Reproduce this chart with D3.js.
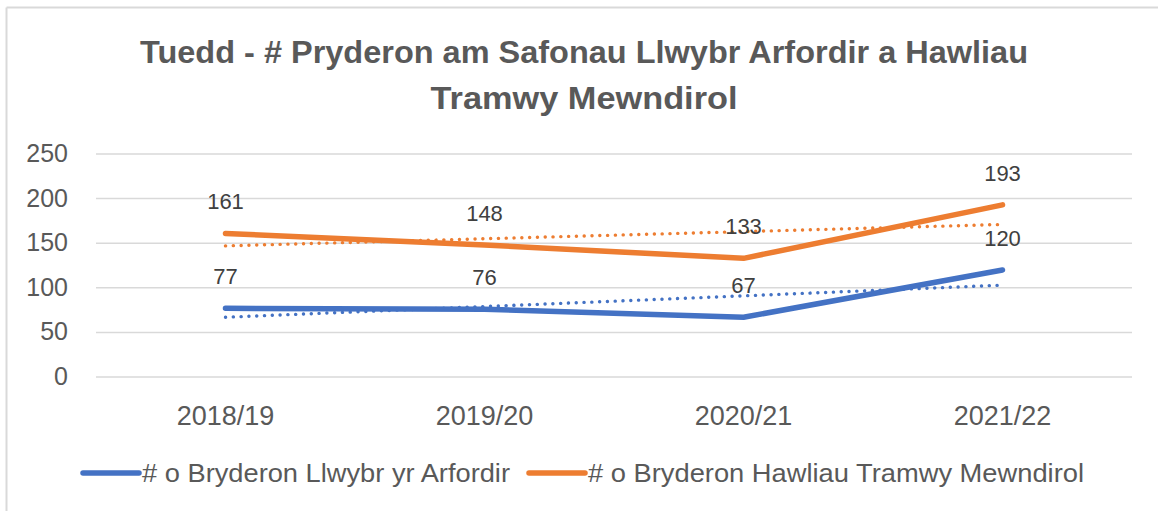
<!DOCTYPE html>
<html>
<head>
<meta charset="utf-8">
<script src="https://cdn.jsdelivr.net/npm/d3@7"></script>
<style>
  body { margin: 0; background: #fff; }
  text { font-family: "Liberation Sans", "DejaVu Sans", sans-serif; }
</style>
</head>
<body>
<svg id="chart" width="1158" height="511"></svg>
<script>
// data
const categories = ["2018/19", "2019/20", "2020/21", "2021/22"];
const coastValues = [77, 76, 67, 120];
const inlandValues = [161, 148, 133, 193];
// trendline ends (first and last category)
const coastTrend = [67, 103];
const inlandTrend = [147, 171];
const yTicks = [0, 50, 100, 150, 200, 250];
const titleLines = ["Tuedd - # Pryderon am Safonau Llwybr Arfordir a Hawliau", "Tramwy Mewndirol"];
const legendNames = ["# o Bryderon Llwybr yr Arfordir", "# o Bryderon Hawliau Tramwy Mewndirol"];

const blue = "#4472c4", orange = "#ed7d31";

const svg = d3.select("#chart");
const width = 1158, height = 511;

// frame edges (only top and left show in the crop)
svg.append("line").attr("x1", 6.5).attr("x2", width).attr("y1", 7.5).attr("y2", 7.5)
    .attr("stroke", "#d9d9d9").attr("stroke-width", 2);
svg.append("line").attr("x1", 6.5).attr("x2", 6.5).attr("y1", 7.5).attr("y2", height)
    .attr("stroke", "#d9d9d9").attr("stroke-width", 2);

const x = d3.scaleBand().domain(categories).range([96, 1132]);
const y = d3.scaleLinear().domain([0, 250]).range([377, 154]);
const cx = d => x(d) + x.bandwidth() / 2;

// title
const titleWidths = [888, 307];
svg.selectAll(".title").data(titleLines).enter().append("text")
    .attr("class", "title")
    .attr("x", 584).attr("y", (d, i) => 63 + i * 46)
    .attr("text-anchor", "middle")
    .attr("textLength", (d, i) => titleWidths[i])
    .attr("lengthAdjust", "spacingAndGlyphs")
    .attr("font-size", 32).attr("font-weight", "bold")
    .attr("fill", "#595959")
    .text(d => d);

// gridlines + y labels
svg.append("g").selectAll("line").data(yTicks).enter().append("line")
    .attr("x1", 96).attr("x2", 1132)
    .attr("y1", d => y(d)).attr("y2", d => y(d))
    .attr("stroke", "#d9d9d9").attr("stroke-width", 1.5);

svg.append("g").selectAll("text").data(yTicks).enter().append("text")
    .attr("x", 68).attr("y", d => y(d) + 8)
    .attr("text-anchor", "end")
    .attr("font-size", 25).attr("fill", "#595959")
    .text(d => d);

// x labels
svg.append("g").selectAll("text").data(categories).enter().append("text")
    .attr("x", d => cx(d)).attr("y", 425)
    .attr("text-anchor", "middle")
    .attr("font-size", 27).attr("fill", "#595959")
    .text(d => d);

const line = d3.line().x(d => cx(d[0])).y(d => y(d[1]));

function drawTrend(ends, color) {
    const pts = [[categories[0], ends[0]], [categories[categories.length - 1], ends[1]]];
    svg.append("path")
        .attr("d", line(pts))
        .attr("fill", "none").attr("stroke", color)
        .attr("stroke-width", 3.4)
        .attr("stroke-linecap", "round")
        .attr("stroke-dasharray", "0.1 7.7");
}

function drawSeries(values, color) {
    svg.append("path")
        .attr("d", line(values.map((v, i) => [categories[i], v])))
        .attr("fill", "none").attr("stroke", color)
        .attr("stroke-width", 5.5)
        .attr("stroke-linejoin", "round").attr("stroke-linecap", "round");
}

drawTrend(coastTrend, blue);
drawTrend(inlandTrend, orange);
drawSeries(coastValues, blue);
drawSeries(inlandValues, orange);

// data labels
[coastValues, inlandValues].forEach(values => {
    svg.append("g").selectAll("text").data(values).enter().append("text")
        .attr("x", (d, i) => cx(categories[i]))
        .attr("y", d => y(d) - 24)
        .attr("text-anchor", "middle")
        .attr("font-size", 22).attr("fill", "#404040")
        .text(d => d);
});

// legend
const legendX = [83, 529];
const legendTextW = [368, 496];
const legendColors = [blue, orange];
legendNames.forEach((name, i) => {
    svg.append("line")
        .attr("x1", legendX[i]).attr("x2", legendX[i] + 56)
        .attr("y1", 473).attr("y2", 473)
        .attr("stroke", legendColors[i]).attr("stroke-width", 5.5)
        .attr("stroke-linecap", "round");
    svg.append("text")
        .attr("x", legendX[i] + 59).attr("y", 482)
        .attr("font-size", 25).attr("fill", "#595959")
        .attr("textLength", legendTextW[i])
        .attr("lengthAdjust", "spacingAndGlyphs")
        .text(name);
});
</script>
</body>
</html>
